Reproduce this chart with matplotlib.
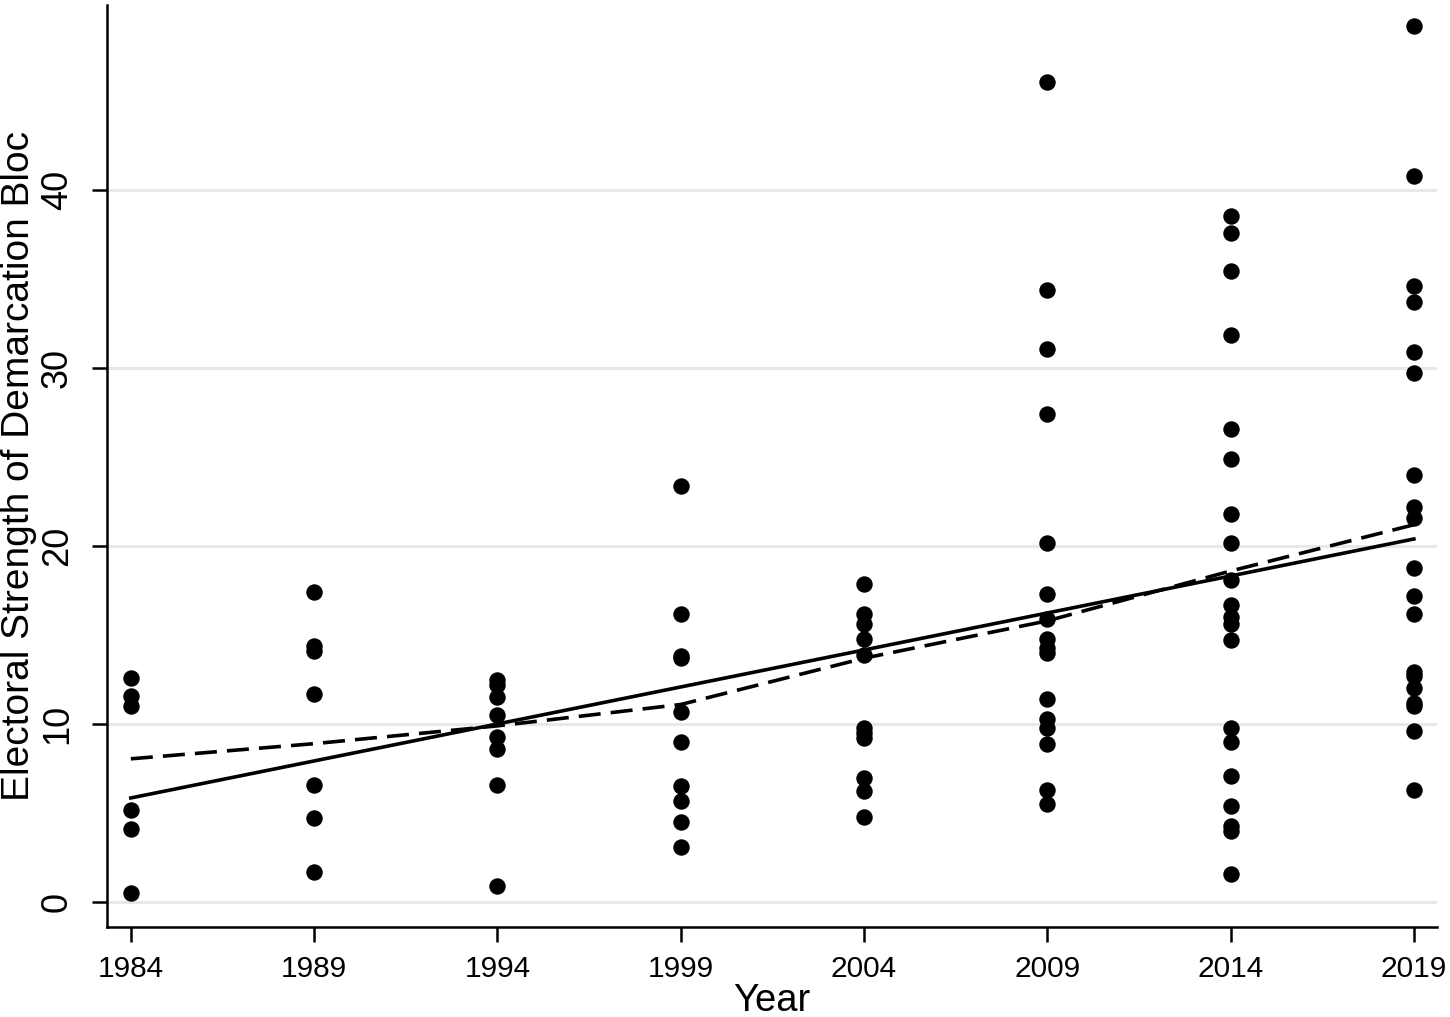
import numpy as np
import matplotlib

matplotlib.use("Agg")
import matplotlib.pyplot as plt

plt.rcParams['font.family'] = ['Liberation Sans', 'DejaVu Sans']

# values, one list per election year
years = [1984, 1989, 1994, 1999, 2004, 2009, 2014, 2019]
bloc_strength = {
    1984: [12.6, 11.6, 11.0, 5.2, 4.1, 0.5],
    1989: [17.4, 14.4, 14.1, 11.7, 6.6, 4.7, 1.7],
    1994: [12.5, 12.2, 11.5, 10.5, 9.3, 8.6, 6.6, 0.9],
    1999: [23.4, 16.2, 13.8, 13.7, 10.7, 9.0, 6.5, 5.7, 4.5, 3.1],
    2004: [17.85, 16.2, 15.65, 14.8, 13.9, 9.8, 9.5, 9.2, 6.95, 6.25, 4.8],
    2009: [46.05, 34.4, 31.1, 27.4, 20.2, 17.3, 15.9, 14.8, 14.3, 14.0,
           11.4, 10.3, 9.8, 8.9, 6.3, 5.5],
    2014: [38.55, 37.6, 35.45, 31.85, 26.6, 24.9, 21.8, 20.2, 18.1, 16.7,
           16.0, 15.65, 14.7, 9.8, 9.0, 7.1, 5.4, 4.3, 4.0, 1.6],
    2019: [49.2, 40.8, 34.6, 33.7, 30.9, 29.7, 24.0, 22.2, 21.6, 18.75,
           17.2, 16.2, 12.9, 12.7, 12.0, 11.2, 11.0, 9.6, 6.3],
}

# linear fit (solid) and smoothed trend (dashed)
fit_years = [1984, 2019]
fit_values = [5.85, 20.4]
trend_values = [8.05, 8.9, 9.9, 11.1, 13.7, 15.8, 18.6, 21.2]

yticks = [0, 10, 20, 30, 40]

fig = plt.figure(figsize=(14.5, 10.17), dpi=100)
ax = fig.add_axes([107 / 1450, 1 - 927 / 1017, (1437 - 107) / 1450, (927 - 5) / 1017])

for y in yticks:
    ax.axhline(y, color='#e8e8e8', lw=2.2, zorder=0)

xs = []
ys = []
for yr in years:
    xs += [yr] * len(bloc_strength[yr])
    ys += bloc_strength[yr]
ax.scatter(xs, ys, s=140, color='black', zorder=3, linewidths=0)

ax.plot(fit_years, fit_values, color='black', lw=2.6, zorder=4)
ax.plot(years, trend_values, color='black', lw=2.6, dashes=(6.1, 2.8), zorder=4)

ax.set_xlim(1983.35, 2019.63)
ax.set_ylim(-1.4, 50.4)
ax.set_xticks(years)
ax.set_yticks(yticks)
ax.set_yticklabels([str(v) for v in yticks], rotation=90, va='center')

ax.spines['top'].set_visible(False)
ax.spines['right'].set_visible(False)
for side in ['left', 'bottom']:
    ax.spines[side].set_linewidth(1.8)
ax.tick_params(axis='both', direction='out', length=11, width=1.8)
ax.tick_params(axis='x', labelsize=21.5, pad=9)
ax.tick_params(axis='y', labelsize=26, pad=12)

ax.set_xlabel('Year', fontsize=27.5, labelpad=0)
ax.set_ylabel('Electoral Strength of Demarcation Bloc', fontsize=28, labelpad=2)

fig.savefig('out.png', dpi=100)
